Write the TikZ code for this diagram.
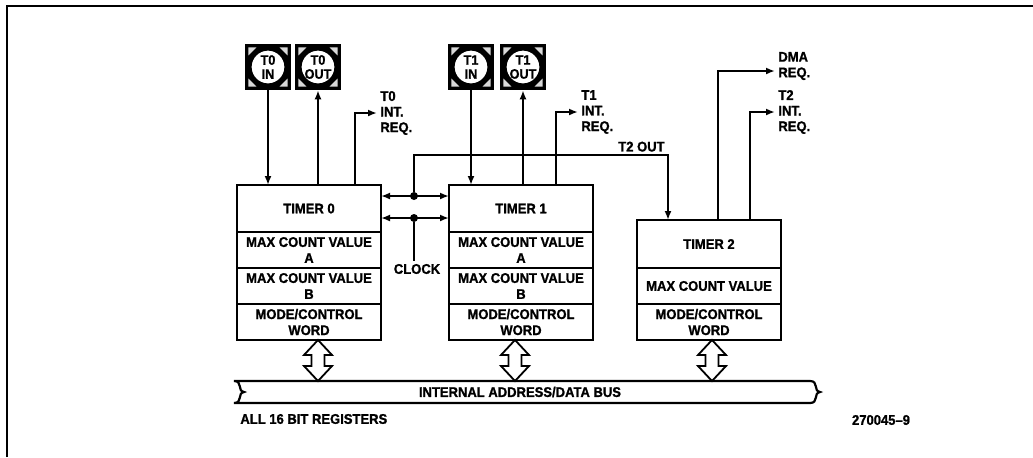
\documentclass[tikz,border=0pt]{standalone}
\usepackage{fontspec}
\setmainfont{Liberation Sans}[FakeStretch=0.93,BoldFeatures={FakeBold=1.2}]
\usetikzlibrary{positioning,calc,arrows.meta}

\tikzset{
  hdr/.style={draw,line width=1.1pt,outer sep=0pt,minimum width=72pt,minimum height=23.5pt,
    inner sep=1pt,align=center,font=\fontsize{7}{8}\selectfont\bfseries},
  sect/.style={hdr,minimum height=18pt},
  lbl/.style={inner sep=1.5pt,font=\fontsize{7}{7.8}\selectfont\bfseries},
  sig/.style={line width=0.9pt},
  junc/.style={circle,fill,inner sep=0pt,minimum size=4pt},
  hollow/.style={line width=0.9pt,fill=white},
  extpin/.style={draw,line width=1.8pt,minimum size=21.5pt,inner sep=0pt,align=center,
    font=\fontsize{6.8}{7}\selectfont\bfseries,
    path picture={
      \fill[black] (path picture bounding box.south west) rectangle (path picture bounding box.north east);
      \foreach \a in {45,135,225,315}
        \fill[black!15] ($(path picture bounding box.center)+(\a:13.8pt)$) -- ++(\a+135:4pt) -- ++(\a+270:5.66pt) -- cycle;
      \draw[line width=1.2pt,fill=white] (path picture bounding box.center) circle (8.8pt);
    }},
}

\begin{document}
\begin{tikzpicture}[x=0.5pt,y=-0.5pt,>={Latex[length=4.5pt,width=3.5pt]}]
\useasboundingbox (0,0) rectangle (1033,457);
\draw[line width=1pt] (7,457) -- (7,6) -- (1033,6);

% timers
\node[hdr] (t0) at (309,208.5) {TIMER 0};
\node[sect,below=0pt of t0] (t0a) {MAX COUNT VALUE\\A};
\node[sect,below=0pt of t0a] (t0b) {MAX COUNT VALUE\\B};
\node[sect,below=0pt of t0b] (t0m) {MODE/CONTROL\\WORD};

\node[hdr] (t1) at (521,208.5) {TIMER 1};
\node[sect,below=0pt of t1] (t1a) {MAX COUNT VALUE\\A};
\node[sect,below=0pt of t1a] (t1b) {MAX COUNT VALUE\\B};
\node[sect,below=0pt of t1b] (t1m) {MODE/CONTROL\\WORD};

\node[hdr,minimum height=24pt] (t2) at (709,244) {TIMER 2};
\node[sect,below=0pt of t2] (t2a) {MAX COUNT VALUE};
\node[sect,below=0pt of t2a] (t2m) {MODE/CONTROL\\WORD};

% pins
\node[extpin] (t0in) at (268,67) {T0\\IN};
\node[extpin] (t0out) at (318,67) {T0\\OUT};
\node[extpin] (t1in) at (471,67) {T1\\IN};
\node[extpin] (t1out) at (523,67) {T1\\OUT};

\draw[sig,->] (t0in) -- (t0in |- t0.north);
\draw[sig,->] (t0out |- t0.north) -- (t0out);
\draw[sig,->] (t1in) -- (t1in |- t1.north);
\draw[sig,->] (t1out |- t1.north) -- (t1out);

% interrupt and dma requests
\node[lbl,align=left,anchor=west] (t0req) at (377,113) {T0\\INT.\\REQ.};
\node[lbl,align=left,anchor=west] (t1req) at (578,112) {T1\\INT.\\REQ.};
\node[lbl,align=left,anchor=west] (dmareq) at (775,66) {DMA\\REQ.};
\node[lbl,align=left,anchor=west] (t2req) at (775,112) {T2\\INT.\\REQ.};
\draw[sig,->] ([xshift=59pt]t0.north west) |- (t0req.west);
\draw[sig,->] ([xshift=53.5pt]t1.north west) |- (t1req.west);
\draw[sig,->] ([xshift=40.5pt]t2.north west) |- ([yshift=-2.5pt]dmareq.west);
\draw[sig,->] ([xshift=56.5pt]t2.north west) |- (t2req.west);

% T2 out and clock
\node[junc] (j1) at (414,196) {};
\node[junc] (j2) at (414,218) {};
\coordinate (t2bend) at (668,155);
\node[lbl,anchor=south east] (t2outlbl) at (t2bend) {T2 OUT};
\node[lbl] (clk) at (417,269) {CLOCK};
\draw[sig,<->] (t0.east |- j1) -- (t1.west |- j1);
\draw[sig,<->] (t0.east |- j2) -- (t1.west |- j2);
\draw[sig,->] (j1) |- (t2bend) -- (t2bend |- t2.north);
\draw[sig] (j2) -- (j2 |- clk.north);

% internal bus
\node[lbl] (bus) at (520,392) {INTERNAL ADDRESS/DATA BUS};
\draw[line width=1.1pt] (234,381) -- (810,381)
  .. controls (819,381) and (813,391) .. (820,392)
  .. controls (813,393) and (819,403) .. (810,403) -- (234,403)
  .. controls (243,403) and (237,393) .. (244,392)
  .. controls (237,391) and (243,381) .. (234,381) -- cycle;
\foreach \t/\dx in {t0m/4.5pt,t1m/-3pt,t2m/1.5pt}
  \draw[hollow] ([xshift=\dx]\t.south) -- ++(14,15) -- ++(-7.5,0) -- ++(0,11) -- ++(7.5,0)
    -- ++(-14,15) -- ++(-14,-15) -- ++(7.5,0) -- ++(0,-11) -- ++(-7.5,0) -- cycle;

\node[lbl,anchor=west] (regs) at (237,419) {ALL 16 BIT REGISTERS};
\node[lbl] (figno) at (881,420) {270045–9};
\end{tikzpicture}
\end{document}
